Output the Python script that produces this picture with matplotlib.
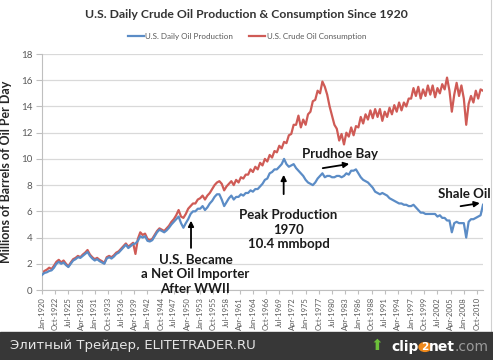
import numpy as np
import pandas as pd
import matplotlib
matplotlib.use("Agg")
import matplotlib.pyplot as plt
import matplotlib.dates as mdates
from matplotlib.patches import Rectangle, Circle

# semiannual readings (Jan, Jul) from Jan-1920 to Jan-2012, million bbl/day
consumption = [
    1.25, 1.45, 1.55, 1.7, 1.6, 1.85, 2.15, 2.3, 2.1, 2.25,
    2.0, 1.8, 2.1, 2.35, 2.45, 2.6, 2.5, 2.7, 2.85, 3.05,
    2.7, 2.5, 2.35, 2.45, 2.3, 2.2, 2.05, 2.5, 2.6, 2.5,
    2.65, 2.85, 2.95, 3.15, 3.35, 3.55, 3.3, 3.45, 3.6, 2.75,
    3.9, 4.4, 4.2, 4.3, 3.9, 3.8, 3.9, 4.2, 4.5, 4.7,
    4.6, 4.5, 4.7, 4.9, 5.2, 5.4, 5.7, 6.1, 5.6, 5.5,
    5.8, 6.2, 6.4, 6.6, 6.6, 6.9, 7.0, 7.2, 6.9, 7.2,
    7.4, 7.7, 8.0, 8.2, 8.3, 8.1, 7.6, 7.9, 8.1, 8.3,
    8.0, 8.4, 8.2, 8.6, 8.5, 8.8, 8.8, 9.2, 9.0, 9.4,
    9.2, 9.7, 9.5, 10.0, 9.8, 10.3, 10.1, 10.6, 10.5, 11.0,
    10.8, 11.3, 11.2, 11.8, 11.9, 12.6, 12.6, 13.3, 12.4, 13.0,
    12.6, 13.4, 13.6, 14.4, 14.5, 15.2, 15.0, 15.9, 15.5, 14.9,
    14.0, 13.3, 12.6, 12.3, 11.4, 11.9, 11.1, 12.0, 11.7, 12.4,
    11.8, 12.5, 12.4, 13.2, 12.7, 13.4, 13.0, 13.7, 13.1, 13.8,
    13.2, 13.8, 12.9, 13.6, 13.2, 13.9, 13.4, 14.1, 13.6, 14.3,
    13.7, 14.3, 14.0, 14.6, 14.6, 15.4, 14.8, 15.5, 14.6, 15.3,
    14.8, 15.6, 14.9, 15.6, 14.7, 15.4, 15.0, 15.7, 15.3, 16.2,
    15.2, 13.6, 14.9, 15.8, 14.8, 15.6, 14.6, 12.6, 14.2, 14.8,
    14.3, 15.2, 14.6, 15.3, 15.2,
]
production = [
    1.15, 1.3, 1.35, 1.45, 1.5, 1.7, 2.0, 2.15, 2.0, 2.1,
    1.9, 1.75, 2.0, 2.25, 2.35, 2.5, 2.45, 2.6, 2.75, 2.9,
    2.6, 2.4, 2.25, 2.35, 2.2, 2.1, 2.0, 2.4, 2.5, 2.4,
    2.55, 2.75, 2.85, 3.05, 3.25, 3.45, 3.2, 3.35, 3.5, 3.55,
    3.75, 4.1, 4.0, 4.1, 3.75, 3.7, 3.8, 4.1, 4.4, 4.6,
    4.5, 4.4, 4.55, 4.75, 5.0, 5.2, 5.4, 5.6, 5.1, 4.75,
    5.1, 5.4, 5.8, 6.0, 6.0, 6.2, 6.2, 6.4, 6.1, 6.3,
    6.6, 6.8, 7.1, 7.3, 7.3, 6.9, 6.4, 6.7, 7.0, 7.2,
    6.9, 7.1, 7.1, 7.3, 7.2, 7.4, 7.4, 7.6, 7.5, 7.7,
    7.7, 7.9, 8.1, 8.4, 8.5, 8.9, 9.0, 9.2, 9.2, 9.4,
    9.6, 10.0, 9.6, 9.4, 9.5, 9.6, 9.3, 9.1, 8.9, 8.7,
    8.4, 8.2, 8.1, 8.0, 8.2, 8.5, 8.7, 8.9, 8.6, 8.7,
    8.7, 8.6, 8.6, 8.7, 8.7, 8.6, 8.7, 8.9, 8.8, 9.1,
    9.1, 9.2, 8.9, 8.6, 8.4, 8.3, 8.2, 8.0, 7.8, 7.5,
    7.4, 7.3, 7.4, 7.3, 7.2, 7.0, 6.9, 6.8, 6.7, 6.6,
    6.6, 6.5, 6.5, 6.4, 6.4, 6.5, 6.3, 6.1, 5.9, 5.9,
    5.8, 5.8, 5.8, 5.8, 5.8, 5.6, 5.7, 5.5, 5.5, 5.3,
    5.3, 4.4, 5.1, 5.2, 5.1, 5.1, 5.1, 4.0, 5.2, 5.4,
    5.4, 5.5, 5.6, 5.7, 6.5,
]
dates = pd.date_range("1920-01-01", "2012-01-01", freq="6MS")
tick_dates = pd.date_range("1920-01-01", periods=34, freq="33MS")
y_ticks = [0, 2, 4, 6, 8, 10, 12, 14, 16, 18]

BLUE, RED, GREY, TXT = "#5b8cc6", "#cf5b56", "#bfbfbf", "#595959"

plt.rcParams.update({"font.family": ["Lato", "DejaVu Sans"]})
fig = plt.figure(figsize=(4.93, 3.60), dpi=100)
ax = fig.add_axes([42 / 493, 70 / 360, 441 / 493, 236 / 360])

ax.plot(dates, production, color=BLUE, lw=1.6, label="U.S. Daily Oil Production", zorder=3)
ax.plot(dates, consumption, color=RED, lw=1.6, label="U.S. Crude Oil Consumption", zorder=2)

ax.set_ylim(0, 18)
ax.set_yticks(y_ticks)
ax.set_xlim(pd.Timestamp("1920-01-01"), pd.Timestamp("2012-01-01"))
ax.set_xticks(tick_dates)
ax.xaxis.set_major_formatter(mdates.DateFormatter("%b-%Y"))
ax.grid(axis="y", color="#d9d9d9", lw=0.9)
ax.set_axisbelow(True)
for s in ("top", "right"):
    ax.spines[s].set_visible(False)
for s in ("left", "bottom"):
    ax.spines[s].set_color(GREY)
ax.tick_params(axis="y", colors=GREY, labelcolor=TXT, labelsize=7, length=4, pad=3)
ax.tick_params(axis="x", colors=GREY, labelcolor=TXT, labelsize=5.5, length=3, pad=2,
               labelrotation=90)
ax.set_ylabel("Millions of Barrels of Oil Per Day", fontsize=9, fontweight="bold",
              color="#262626", labelpad=6)

fig.text(0.5, 1 - 15 / 360, "U.S. Daily Crude Oil Production & Consumption Since 1920",
         ha="center", va="center", fontsize=8.8, fontweight="bold", color="#333333")
ax.legend(loc="center", bbox_to_anchor=(0.465, 1 + 18 / 236), ncol=2, frameon=False,
          fontsize=5.8, handlelength=2.0, handletextpad=0.2, columnspacing=2.0,
          labelcolor=TXT)

# annotations
akw = dict(arrowstyle="-|>", color="black", lw=1.3, mutation_scale=8)
ann = dict(fontsize=9.5, fontweight="bold", color="#1a1a1a", ha="center", va="center",
           linespacing=1.25)
ax.annotate("", xy=(pd.Timestamp("1951-02-01"), 5.5), xytext=(pd.Timestamp("1951-02-01"), 3.0),
            arrowprops=akw)
ax.text(pd.Timestamp("1952-01-01"), 1.2, "U.S. Became\na Net Oil Importer\nAfter WWII", **ann)
ax.annotate("", xy=(pd.Timestamp("1970-06-01"), 9.0), xytext=(pd.Timestamp("1970-06-01"), 7.1),
            arrowprops=akw)
ax.text(pd.Timestamp("1971-06-01"), 4.6, "Peak Production\n1970\n10.4 mmbopd", **ann)
ax.annotate("", xy=(pd.Timestamp("1984-09-01"), 9.65), xytext=(pd.Timestamp("1978-01-01"), 9.26),
            arrowprops=akw)
ax.text(pd.Timestamp("1982-02-01"), 10.4, "Prudhoe Bay", **ann)
ax.annotate("", xy=(pd.Timestamp("2011-12-01"), 6.66), xytext=(pd.Timestamp("2006-10-01"), 6.36),
            arrowprops=akw)
ax.text(pd.Timestamp("2008-03-01"), 7.35, "Shale Oil", **ann)

# chart border on the right and the screenshot footer bar
fig.add_artist(plt.Line2D([491 / 493, 491 / 493], [28 / 360, 1], color="#d0d0d0", lw=0.8))
fig.add_artist(Rectangle((0, 0), 1, 28 / 360, transform=fig.transFigure,
                         color="#373737", zorder=10))
fig.text(10 / 493, 14 / 360, "Элитный Трейдер, ELITETRADER.RU", color="#e6e6e6",
         fontsize=9.5, family="DejaVu Sans", va="center", zorder=11)
fig.text(377 / 493, 14 / 360, "\u2b06", color="#6cbf3a", fontsize=11,
         family="DejaVu Sans", ha="center", va="center", zorder=11)
fig.text(419 / 493, 13 / 360, "clip", color="white", fontsize=10, fontweight="bold",
         family="DejaVu Sans", ha="right", va="center", zorder=11)
fig.add_artist(Circle((425 / 493, 13 / 360), 6 / 493, transform=fig.transFigure,
                      color="#f08a1c", zorder=11))
fig.text(425 / 493, 13 / 360, "2", color="white", fontsize=7.5, fontweight="bold",
         family="DejaVu Sans", ha="center", va="center", zorder=12)
fig.text(455 / 493, 13 / 360, "net", color="white", fontsize=10, fontweight="bold",
         family="DejaVu Sans", ha="right", va="center", zorder=11)
fig.text(455 / 493, 13 / 360, ".com", color="#9a9a9a", fontsize=10,
         family="DejaVu Sans", ha="left", va="center", zorder=11)

fig.savefig("out.png", dpi=100)
